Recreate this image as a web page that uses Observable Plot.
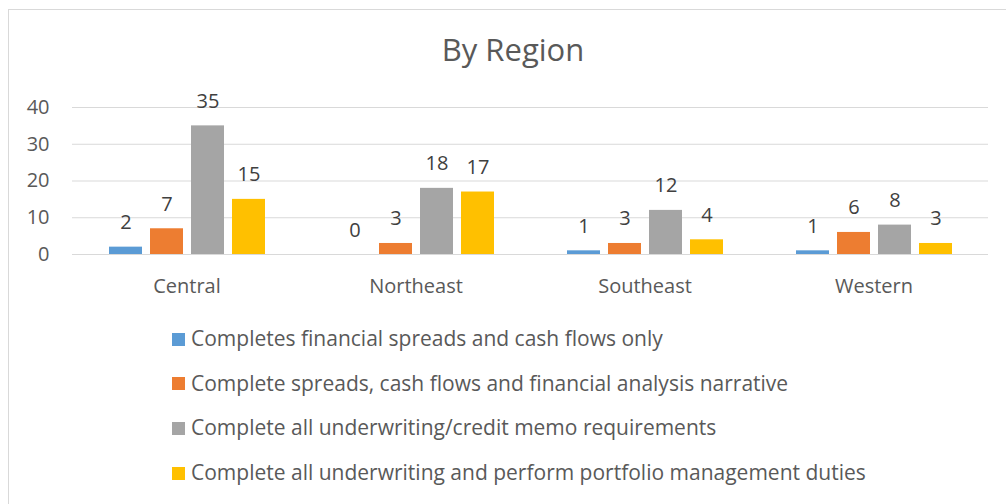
<!DOCTYPE html>
<html><head><meta charset="utf-8">
<script src="https://cdn.jsdelivr.net/npm/d3@7"></script>
<script src="https://cdn.jsdelivr.net/npm/@observablehq/plot@0.6"></script>
<style>
body{margin:0;background:#fff;font-family:"Open Sans",sans-serif;}
#wrap{position:relative;width:1006px;height:504px;overflow:hidden;background:#fff;}
#frame{position:absolute;left:8px;top:9px;width:1010px;height:510px;border:1px solid #d9d9d9;}
#title{position:absolute;left:0;width:1026px;top:34px;text-align:center;font-size:31px;line-height:31px;color:#595959;}
#chart{position:absolute;left:0;top:0;}
.sw{position:absolute;left:172px;width:13px;height:13px;}
.lt{position:absolute;left:191px;font-size:21px;line-height:21px;color:#595959;white-space:nowrap;}
</style></head>
<body>
<div id="wrap">
  <div id="frame"></div>
  <div id="title">By Region</div>
  <div id="chart"></div>
  <div id="legend"></div>
</div>
<script>
const regions = ["Central", "Northeast", "Southeast", "Western"];
const seriesNames = [
  "Completes financial spreads and cash flows only",
  "Complete spreads, cash flows and financial analysis narrative",
  "Complete all underwriting/credit memo requirements",
  "Complete all underwriting and perform portfolio management duties"
];
const colors = ["#5B9BD5", "#ED7D31", "#A5A5A5", "#FFC000"];
const completesOnly = [2, 0, 1, 1];
const spreadsNarrative = [7, 3, 3, 6];
const underwritingMemo = [35, 18, 12, 8];
const portfolioDuties = [15, 17, 4, 3];
const yTicks = [0, 10, 20, 30, 40];

const seriesValues = [completesOnly, spreadsNarrative, underwritingMemo, portfolioDuties];
const data = [];
regions.forEach((r, i) => seriesNames.forEach((s, j) => data.push({region: r, series: s, value: seriesValues[j][i]})));

const chart = Plot.plot({
  width: 1006, height: 310,
  marginLeft: 72, marginRight: 18, marginTop: 107, marginBottom: 56,
  style: {fontFamily: "Open Sans", fontSize: "20px", color: "#595959", background: "transparent"},
  fx: {domain: regions, padding: 0, label: null, axis: "bottom", tickSize: 0, tickPadding: 24},
  x: {domain: seriesNames, paddingInner: 0.207, paddingOuter: 0.896, axis: null},
  y: {domain: [0, 40], ticks: yTicks, label: null, tickSize: 0, tickPadding: 23},
  color: {domain: seriesNames, range: colors},
  marks: [
    Plot.gridY(yTicks, {stroke: "#d9d9d9", strokeOpacity: 1, strokeWidth: 1}),
    Plot.barY(data, {fx: "region", x: "series", y: "value", fill: "series"}),
    Plot.text(data, {fx: "region", x: "series", y: "value", text: d => String(d.value), dy: -18, lineAnchor: "bottom", fill: "#404040", fontSize: 20})
  ]
});
document.getElementById("chart").appendChild(chart);

const legend = document.getElementById("legend");
const rowTops = [328, 372.7, 417.3, 462];
seriesNames.forEach((s, i) => {
  const sw = document.createElement("div");
  sw.className = "sw";
  sw.style.top = (rowTops[i] + 4.5) + "px";
  sw.style.background = colors[i];
  legend.appendChild(sw);
  const t = document.createElement("div");
  t.className = "lt";
  t.style.top = rowTops[i] + "px";
  t.textContent = s;
  legend.appendChild(t);
});
</script>
</body></html>
